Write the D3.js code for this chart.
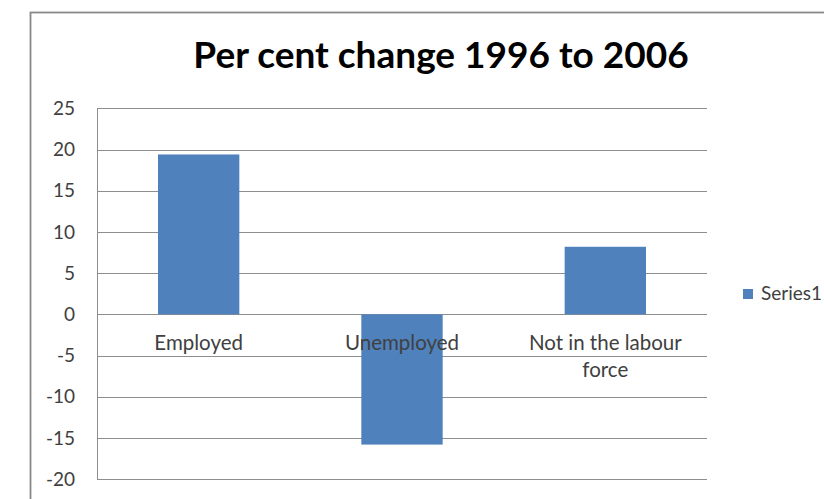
<!DOCTYPE html>
<html><head><meta charset="utf-8">
<script src="https://cdn.jsdelivr.net/npm/d3@7"></script>
<style>
html,body{margin:0;padding:0;background:#fff;}
svg{display:block;}
text{font-family:Lato,"Open Sans",sans-serif;}
</style></head>
<body>
<svg id="c" width="824" height="499"></svg>
<script>
const title = "Per cent change 1996 to 2006";
const categories = ["Employed", "Unemployed", "Not in the labour force"];
const categoryLines = [["Employed"], ["Unemployed"], ["Not in the labour", "force"]];
const series1 = [19.4, -15.8, 8.2];
const seriesName = "Series1";
const yTicks = [25, 20, 15, 10, 5, 0, -5, -10, -15, -20];

const svg = d3.select("#c");
svg.append("rect").attr("width",824).attr("height",499).attr("fill","#fff");
svg.append("rect").attr("x",30.5).attr("y",12.5).attr("width",820).attr("height",500)
  .attr("fill","none").attr("stroke","#888888").attr("stroke-width",1.8);

const m = {left:97, right:707, top:108.3, bottom:479.2};
const x = d3.scaleBand().domain(categories).range([m.left, m.right]).paddingInner(0.6).paddingOuter(0.3);
const y = d3.scaleLinear().domain([-20,25]).range([m.bottom, m.top]);

// gridlines
svg.append("g").selectAll("line").data(yTicks).join("line")
  .attr("x1",m.left).attr("x2",m.right)
  .attr("y1",d=>Math.round(y(d))+0.5).attr("y2",d=>Math.round(y(d))+0.5)
  .attr("stroke","#8e8e8e").attr("stroke-width",1);

// y axis
const ya = svg.append("g").attr("transform",`translate(${m.left},0)`)
  .call(d3.axisLeft(y).tickValues(yTicks).tickSize(0).tickPadding(22).tickFormat(d=>String(d)));
ya.select(".domain").attr("stroke","#8e8e8e");
ya.selectAll("text").attr("font-size",19).attr("fill","#404040").attr("font-family","Lato,sans-serif");

// bars
svg.append("g").selectAll("rect").data(series1).join("rect")
  .attr("x",(d,i)=>x(categories[i]))
  .attr("width",x.bandwidth())
  .attr("y",d=>y(Math.max(0,d)))
  .attr("height",d=>Math.abs(y(d)-y(0)))
  .attr("fill","#4f81bd");

// category labels
const cl = svg.append("g");
categoryLines.forEach((lines,i)=>{
  const cx = x(categories[i]) + x.bandwidth()/2;
  const t = cl.append("text").attr("text-anchor","middle")
    .attr("x", cx).attr("y", y(0)+36).attr("font-size",20.5).attr("fill","#404040");
  lines.forEach((ln,j)=>t.append("tspan").attr("x",cx).attr("dy", j===0?0:27).text(ln));
});

// title
svg.append("text").attr("x",441).attr("y",68).attr("text-anchor","middle")
  .attr("font-size",37).attr("font-weight","bold").attr("fill","#000").text(title);

// legend
const lg = svg.append("g").attr("transform","translate(743,289)");
lg.append("rect").attr("width",10).attr("height",10).attr("fill","#4f81bd");
lg.append("text").attr("x",18).attr("y",11).attr("font-size",19).attr("fill","#404040").text(seriesName);
</script>
</body></html>
